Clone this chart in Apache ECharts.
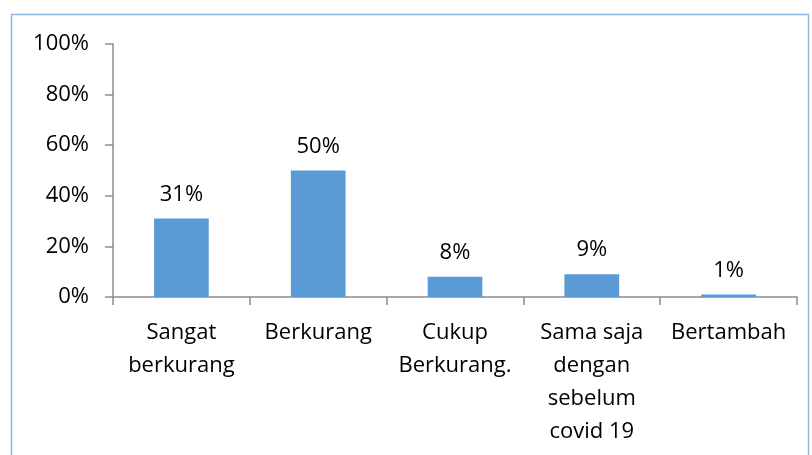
<!DOCTYPE html>
<html>
<head>
<meta charset="utf-8">
<script src="https://cdn.jsdelivr.net/npm/echarts@6/dist/echarts.min.js"></script>
<style>
  html, body { margin: 0; padding: 0; background: #fff; }
  #main { width: 812px; height: 455px; }
</style>
</head>
<body>
<div id="main"></div>
<script>
// data
var categories = ['Sangat\nberkurang', 'Berkurang', 'Cukup\nBerkurang.', 'Sama saja\ndengan\nsebelum\ncovid 19', 'Bertambah']
var values = [31, 50, 8, 9, 1]
var yTicks = [0, 20, 40, 60, 80, 100]

var font = '"Open Sans", Lato, sans-serif'
var myChart = echarts.init(document.getElementById('main'))

var option = {
  backgroundColor: '#fff',
  animation: false,
  graphic: [
    {
      type: 'rect',
      shape: { x: 11.5, y: 14.5, width: 797, height: 460 },
      style: { fill: 'none', stroke: '#8fb9e3', lineWidth: 1.5 },
      silent: true
    }
  ],
  grid: { left: 113, right: 15, top: 44, bottom: 158 },
  xAxis: {
    type: 'category',
    data: categories,
    axisLine: { lineStyle: { color: '#8c8c8c', width: 1.5 } },
    axisTick: { show: true, length: 8, alignWithLabel: false, lineStyle: { color: '#8c8c8c', width: 1.5 } },
    axisLabel: {
      interval: 0,
      margin: 19,
      color: '#000',
      fontFamily: font,
      fontSize: 22,
      lineHeight: 33
    }
  },
  yAxis: {
    type: 'value',
    min: yTicks[0],
    max: yTicks[yTicks.length - 1],
    interval: 20,
    splitLine: { show: false },
    axisLine: { show: true, lineStyle: { color: '#8c8c8c', width: 1.5 } },
    axisTick: { show: true, length: 8, lineStyle: { color: '#8c8c8c', width: 1.5 } },
    axisLabel: {
      margin: 24,
      color: '#000',
      fontFamily: font,
      fontSize: 22,
      formatter: '{value}%'
    }
  },
  series: [
    {
      type: 'bar',
      data: values,
      barWidth: '40%',
      itemStyle: { color: '#5b9bd5' },
      label: {
        show: true,
        position: 'top',
        distance: 13,
        color: '#000',
        fontFamily: font,
        fontSize: 22,
        formatter: '{c}%'
      }
    }
  ]
}
myChart.setOption(option)
</script>
</body>
</html>
